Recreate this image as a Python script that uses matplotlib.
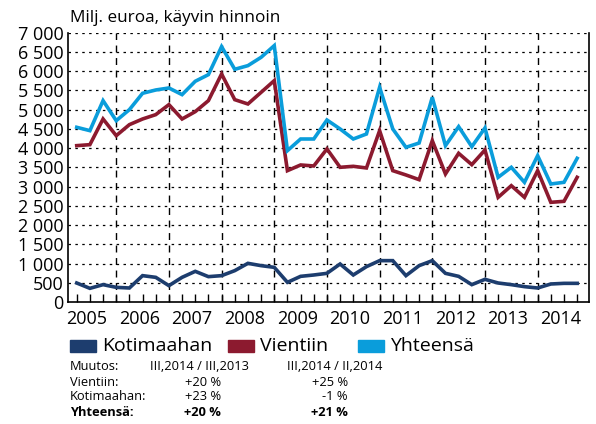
import matplotlib.pyplot as plt
from matplotlib.patches import Rectangle

plt.rcParams['font.family'] = ['Open Sans', 'DejaVu Sans']

# quarterly values 2005 Q1 .. 2014 Q3, milj. euroa
years = [str(y) for y in range(2005, 2015)]
kotimaahan = [494, 355, 451, 381, 364, 685, 641, 425, 641, 797,
              659, 685, 815, 1005, 945, 901, 511, 667, 702, 745,
              988, 702, 919, 1075, 1075, 685, 945, 1075, 745, 667,
              451, 589, 494, 451, 399, 364, 468, 485, 485]
vientiin = [4064, 4090, 4757, 4324, 4610, 4757, 4870, 5130, 4757, 4948,
            5234, 5927, 5260, 5147, 5450, 5754, 3414, 3562, 3536, 3978,
            3501, 3527, 3484, 4454, 3414, 3302, 3180, 4194, 3328, 3865,
            3570, 3951, 2721, 3024, 2721, 3414, 2591, 2617, 3241]
yhteensa = [4541, 4454, 5234, 4714, 5000, 5425, 5511, 5563, 5390, 5737,
            5910, 6638, 6049, 6144, 6360, 6664, 3934, 4237, 4237, 4731,
            4498, 4237, 4367, 5581, 4498, 4021, 4133, 5321, 4064, 4558,
            4038, 4523, 3241, 3501, 3111, 3804, 3068, 3111, 3735]

series_names = ['Kotimaahan', 'Vientiin', 'Yhteensä']
colors = ['#1d3d6e', '#8c1a2f', '#0a9ddb']

table_rows = [
    ('Muutos:', 'III,2014 / III,2013', 'III,2014 / II,2014'),
    ('Vientiin:', '+20 %', '+25 %'),
    ('Kotimaahan:', '+23 %', '-1 %'),
    ('Yhteensä:', '+20 %', '+21 %'),
]

fig = plt.figure(figsize=(5.96, 4.24), dpi=100)
ax = fig.add_axes([67.5 / 596, 1 - 302 / 424, (589 - 67.5) / 596, (302 - 32.7) / 424])

x = list(range(len(yhteensa)))
for vals, c in zip([kotimaahan, vientiin, yhteensa], colors):
    ax.plot(x, vals, color=c, lw=2.6, solid_joinstyle='miter', zorder=3)

ax.set_xlim(-0.7, 38.9)
ax.set_ylim(0, 7000)

# horizontal dotted grid
yt = list(range(0, 7001, 500))
ax.set_yticks(yt)
ax.set_yticklabels([f"{v:,}".replace(",", " ") for v in yt], fontsize=13)
for v in yt[1:]:
    ax.axhline(v, color='black', lw=0.9, ls=(0, (2, 3.5)), zorder=1)

# vertical dashed lines at year ends
for i in range(3, len(x), 4):
    ax.axvline(i, color='black', lw=1.0, ls=(0, (5, 4)), zorder=1)

ax.set_xticks([4 * k + 0.75 for k in range(len(years))])
ax.set_xticklabels(years, fontsize=13)
ax.set_xticks(x, minor=True)
ax.tick_params(axis='x', which='major', length=0, pad=6)
ax.tick_params(axis='x', which='minor', direction='in', length=5.5, width=1)
ax.tick_params(axis='y', length=0, pad=3)

ax.spines['top'].set_visible(False)
for s in ['left', 'bottom', 'right']:
    ax.spines[s].set_linewidth(1.2)

fig.text(70 / 596, 1 - 18 / 424, 'Milj. euroa, käyvin hinnoin', fontsize=12.3,
         va='center', ha='left')

# legend
leg_x = [70, 228, 358]
for lx, name, c in zip(leg_x, series_names, colors):
    fig.add_artist(Rectangle((lx / 596, 1 - 352 / 424), 26 / 596, 12 / 424,
                             transform=fig.transFigure, color=c))
    fig.text((lx + 32) / 596, 1 - 346 / 424, name, fontsize=14, va='center', ha='left')

# change table
row_y = [367, 382, 397, 412]
for ry, row in zip(row_y, table_rows):
    weight = 'bold' if row[0] == 'Yhteensä:' else 'normal'
    yy = 1 - ry / 424
    fig.text(70 / 596, yy, row[0], fontsize=9.3, va='center', ha='left', weight=weight)
    if row[0] == 'Muutos:':
        fig.text(150 / 596, yy, row[1], fontsize=9.3, va='center', ha='left')
        fig.text(287 / 596, yy, row[2], fontsize=9.3, va='center', ha='left')
    else:
        fig.text(221 / 596, yy, row[1], fontsize=9.3, va='center', ha='right', weight=weight)
        fig.text(348 / 596, yy, row[2], fontsize=9.3, va='center', ha='right', weight=weight)

fig.savefig('out.png', dpi=100)
